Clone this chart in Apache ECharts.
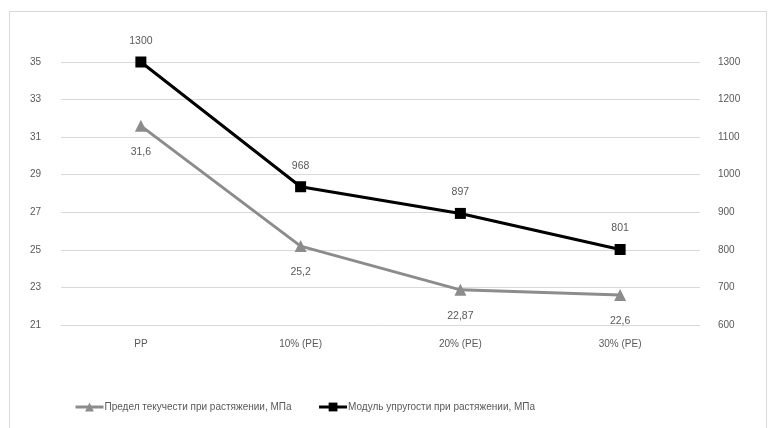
<!DOCTYPE html>
<html>
<head>
<meta charset="utf-8">
<script src="https://cdn.jsdelivr.net/npm/echarts@6/dist/echarts.min.js"></script>
<style>
  html, body { margin: 0; padding: 0; background: #ffffff; }
  #chart { width: 769px; height: 428px; }
</style>
</head>
<body>
<div id="chart"></div>
<script>
// Categories along the x axis
const categories = ['PP', '10% (PE)', '20% (PE)', '30% (PE)'];
// Yield strength in tension, MPa (left axis)
const yieldStrength = [31.6, 25.2, 22.87, 22.6];
const yieldLabels = ['31,6', '25,2', '22,87', '22,6'];
// Tensile modulus, MPa (right axis)
const modulus = [1300, 968, 897, 801];
// Series names
const seriesNames = ['Предел текучести при растяжении, МПа', 'Модуль упругости при растяжении, МПа'];

const chart = echarts.init(document.getElementById('chart'), null, { renderer: 'canvas' });

const textColor = '#595959';
const font = 'Liberation Sans';

chart.setOption({
  animation: false,
  backgroundColor: '#ffffff',
  graphic: [{
    type: 'rect',
    shape: { x: 9.5, y: 11.5, width: 757, height: 420 },
    style: { fill: 'none', stroke: '#d9d9d9', lineWidth: 1 },
    silent: true
  }],
  grid: { left: 61, right: 69, top: 62, bottom: 103 },
  legend: {
    bottom: 11,
    left: 69,
    itemGap: 26,
    itemWidth: 28,
    itemHeight: 11,
    lineStyle: { width: 3 },
    textStyle: { color: textColor, fontSize: 10, fontFamily: font, padding: [0, 0, 0, -4] },
    data: seriesNames
  },
  xAxis: {
    type: 'category',
    data: categories,
    boundaryGap: true,
    axisLine: { show: true, lineStyle: { color: '#d9d9d9' } },
    axisTick: { show: false },
    axisLabel: { color: textColor, fontSize: 10, fontFamily: font, margin: 14 }
  },
  yAxis: [
    {
      type: 'value',
      min: 21, max: 35, interval: 2,
      axisLine: { show: false },
      axisTick: { show: false },
      axisLabel: { color: textColor, fontSize: 10, fontFamily: font, margin: 20 },
      splitLine: { lineStyle: { color: '#d9d9d9' } }
    },
    {
      type: 'value',
      min: 600, max: 1300, interval: 100,
      axisLine: { show: false },
      axisTick: { show: false },
      axisLabel: { color: textColor, fontSize: 10, fontFamily: font, margin: 18, formatter: v => String(v) },
      splitLine: { show: false }
    }
  ],
  series: [
    {
      name: seriesNames[0],
      type: 'line',
      yAxisIndex: 0,
      data: yieldStrength,
      symbol: 'triangle',
      symbolSize: 12,
      itemStyle: { color: '#8c8c8c' },
      lineStyle: { color: '#8c8c8c', width: 3 },
      label: {
        show: true,
        position: 'bottom',
        distance: 15,
        color: textColor,
        fontSize: 10.5,
        fontFamily: font,
        formatter: p => yieldLabels[p.dataIndex]
      }
    },
    {
      name: seriesNames[1],
      type: 'line',
      yAxisIndex: 1,
      data: modulus,
      symbol: 'rect',
      symbolSize: 11,
      itemStyle: { color: '#000000' },
      lineStyle: { color: '#000000', width: 3 },
      label: {
        show: true,
        position: 'top',
        distance: 10,
        color: textColor,
        fontSize: 10.5,
        fontFamily: font
      }
    }
  ]
});
</script>
</body>
</html>
